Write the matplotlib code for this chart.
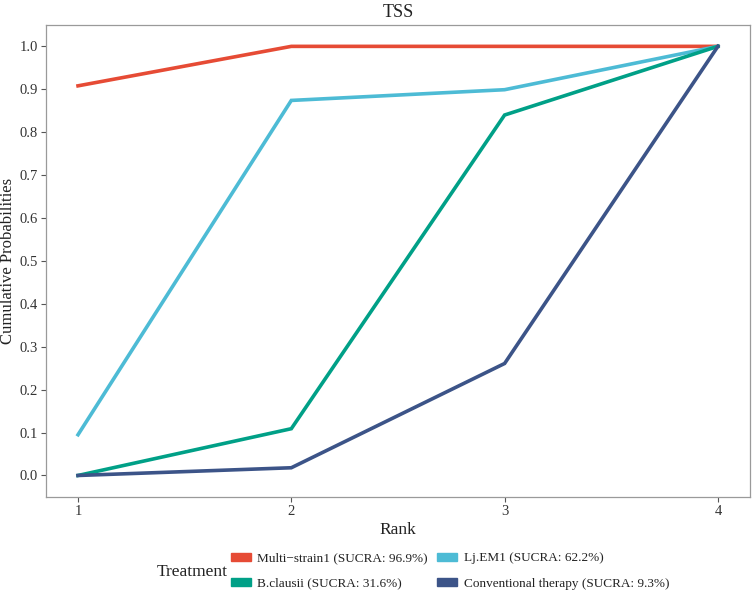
import matplotlib.pyplot as plt
from matplotlib.patches import Patch

plt.rcParams['font.family'] = ['Liberation Serif', 'DejaVu Serif']

ranks = [1, 2, 3, 4]
multi = [0.908, 1.0, 1.0, 1.0]
ljem1 = [0.095, 0.874, 0.899, 1.0]
bclausii = [0.0, 0.109, 0.840, 1.0]
conv = [0.0, 0.018, 0.261, 1.0]

names = ['Multi\u2212strain1 (SUCRA: 96.9%)', 'Lj.EM1 (SUCRA: 62.2%)',
         'B.clausii (SUCRA: 31.6%)', 'Conventional therapy (SUCRA: 9.3%)']
colors = ['#E64B35', '#4DBBD5', '#00A087', '#3C5488']
series = [multi, ljem1, bclausii, conv]

fig = plt.figure(figsize=(7.52, 5.93), dpi=100)
ax = fig.add_axes([0.0612, 0.162, 0.936, 0.796])

for s, c in zip(series, colors):
    ax.plot(ranks, s, color=c, lw=2.6, solid_joinstyle='miter')

ax.set_xlim(0.85, 4.15)
ax.set_ylim(-0.05, 1.05)
ax.set_xticks(ranks)
ax.set_yticks([i / 10 for i in range(11)])
ax.set_yticklabels(['%.1f' % (i / 10) for i in range(11)])
for sp in ax.spines.values():
    sp.set_color('#9a9a9a')
    sp.set_linewidth(0.9)
ax.tick_params(colors='#555555', labelcolor='#333333', labelsize=10.5,
               length=3.5, width=0.8, pad=2.5)
ax.set_xlabel('Rank', fontsize=12.5, color='#222222')
ax.xaxis.set_label_coords(0.5, -0.053)
ax.set_ylabel('Cumulative Probabilities', fontsize=12, color='#222222')
ax.yaxis.set_label_coords(-0.042, 0.5)
ax.set_title('TSS', fontsize=13, color='#222222', pad=6)

fig.text(0.208, 1 - 572 / 593, 'Treatment', fontsize=12.5, color='#222222',
         ha='left', va='center')
handles = [Patch(color=c) for c in colors]
# column-major order: col1 = multi, bclausii ; col2 = lj, conv
order = [0, 2, 1, 3]
leg = fig.legend([handles[i] for i in order], [names[i] for i in order], ncol=2,
                 loc='center left', bbox_to_anchor=(0.307, 1 - 571 / 593),
                 frameon=False, borderpad=0, borderaxespad=0,
                 fontsize=9.5, handlelength=1.5, handleheight=0.55,
                 columnspacing=0.7, handletextpad=0.5, labelspacing=1.0)
for t in leg.get_texts():
    t.set_color('#222222')

fig.savefig('out.png', dpi=100)
